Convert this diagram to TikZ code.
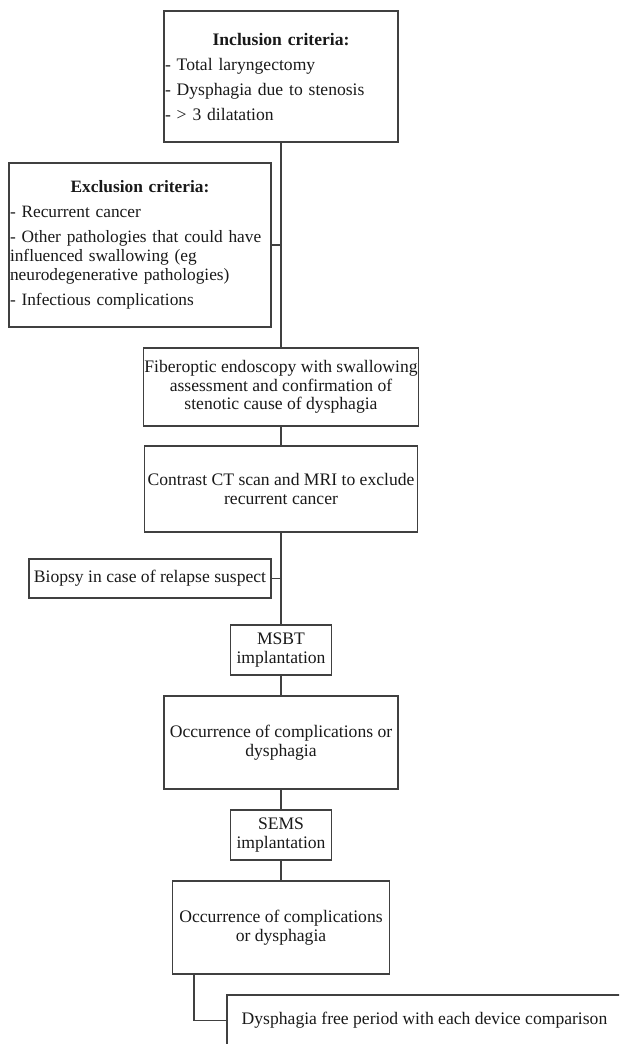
\documentclass[tikz,border=0pt]{standalone}
\usepackage{fontspec}
\setmainfont{Liberation Serif}
\begin{document}
\begin{tikzpicture}[x=0.75pt,y=-0.75pt,
  box/.style={draw=black!75, line width=1pt, inner sep=0.75pt, align=center,
    font=\fontsize{13.2}{14}\selectfont, text=black!90},
  link/.style={draw=black!75, line width=1pt}]
\useasboundingbox (0,0) rectangle (619,1044);
\clip (0,0) rectangle (619,1044);

\node[box, minimum width=175.5pt, minimum height=98.25pt, text width=174pt, align=left,
  font=\fontsize{13.2}{18.75}\selectfont] (incl) at (281,76.5)
  {\makebox[\linewidth]{\textbf{Inclusion criteria:}}\\- Total laryngectomy\\- Dysphagia due to stenosis\\- > 3 dilatation};

\node[box, minimum width=196.5pt, minimum height=123pt, text width=195pt, align=left,
  font=\fontsize{13}{14.25}\selectfont] (excl) at (140,245)
  {\makebox[\linewidth]{\textbf{Exclusion criteria:}}\\[4.5pt]- Recurrent cancer\\[4.5pt]- Other pathologies that could have\\influenced swallowing (eg\\neurodegenerative pathologies)\\[4.5pt]- Infectious complications};

\node[box, minimum width=205.5pt, minimum height=58.5pt] (fiber) at (281,387)
  {Fiberoptic endoscopy with swallowing\\assessment and confirmation of\\stenotic cause of dysphagia};

\node[box, minimum width=204.75pt, minimum height=64.5pt] (contrast) at (281,489)
  {Contrast CT scan and MRI to exclude\\recurrent cancer};

\node[box, minimum width=181.5pt, minimum height=29.25pt] (biopsy) at (150,578.5)
  {Biopsy in case of relapse suspect};

\node[box, minimum width=75.75pt, minimum height=37.5pt] (msbt) at (281,650)
  {MSBT\\implantation};

\node[box, minimum width=175.5pt, minimum height=69.75pt] (occ1) at (281,742.5)
  {Occurrence of complications or\\dysphagia};

\node[box, minimum width=75.75pt, minimum height=37.5pt] (sems) at (281,835)
  {SEMS\\implantation};

\node[box, minimum width=162.75pt, minimum height=69.75pt] (occ2) at (281,927.5)
  {Occurrence of complications\\or dysphagia};

\node[box, minimum width=296.25pt, minimum height=38.25pt] (final) at (424.5,1020.5)
  {Dysphagia free period with each device comparison};

\draw[link] (incl) -- (fiber);
\draw[link] (excl.east) -- (excl.east -| incl.south);
\draw[link] (fiber) -- (contrast);
\draw[link] (contrast) -- (msbt);
\draw[link] (biopsy.east) -- (biopsy.east -| contrast.south);
\draw[link] (msbt) -- (occ1);
\draw[link] (occ1) -- (sems);
\draw[link] (sems) -- (occ2);
\draw[link] ([xshift=16.5pt]occ2.south west) |- (final.west);
\end{tikzpicture}
\end{document}
